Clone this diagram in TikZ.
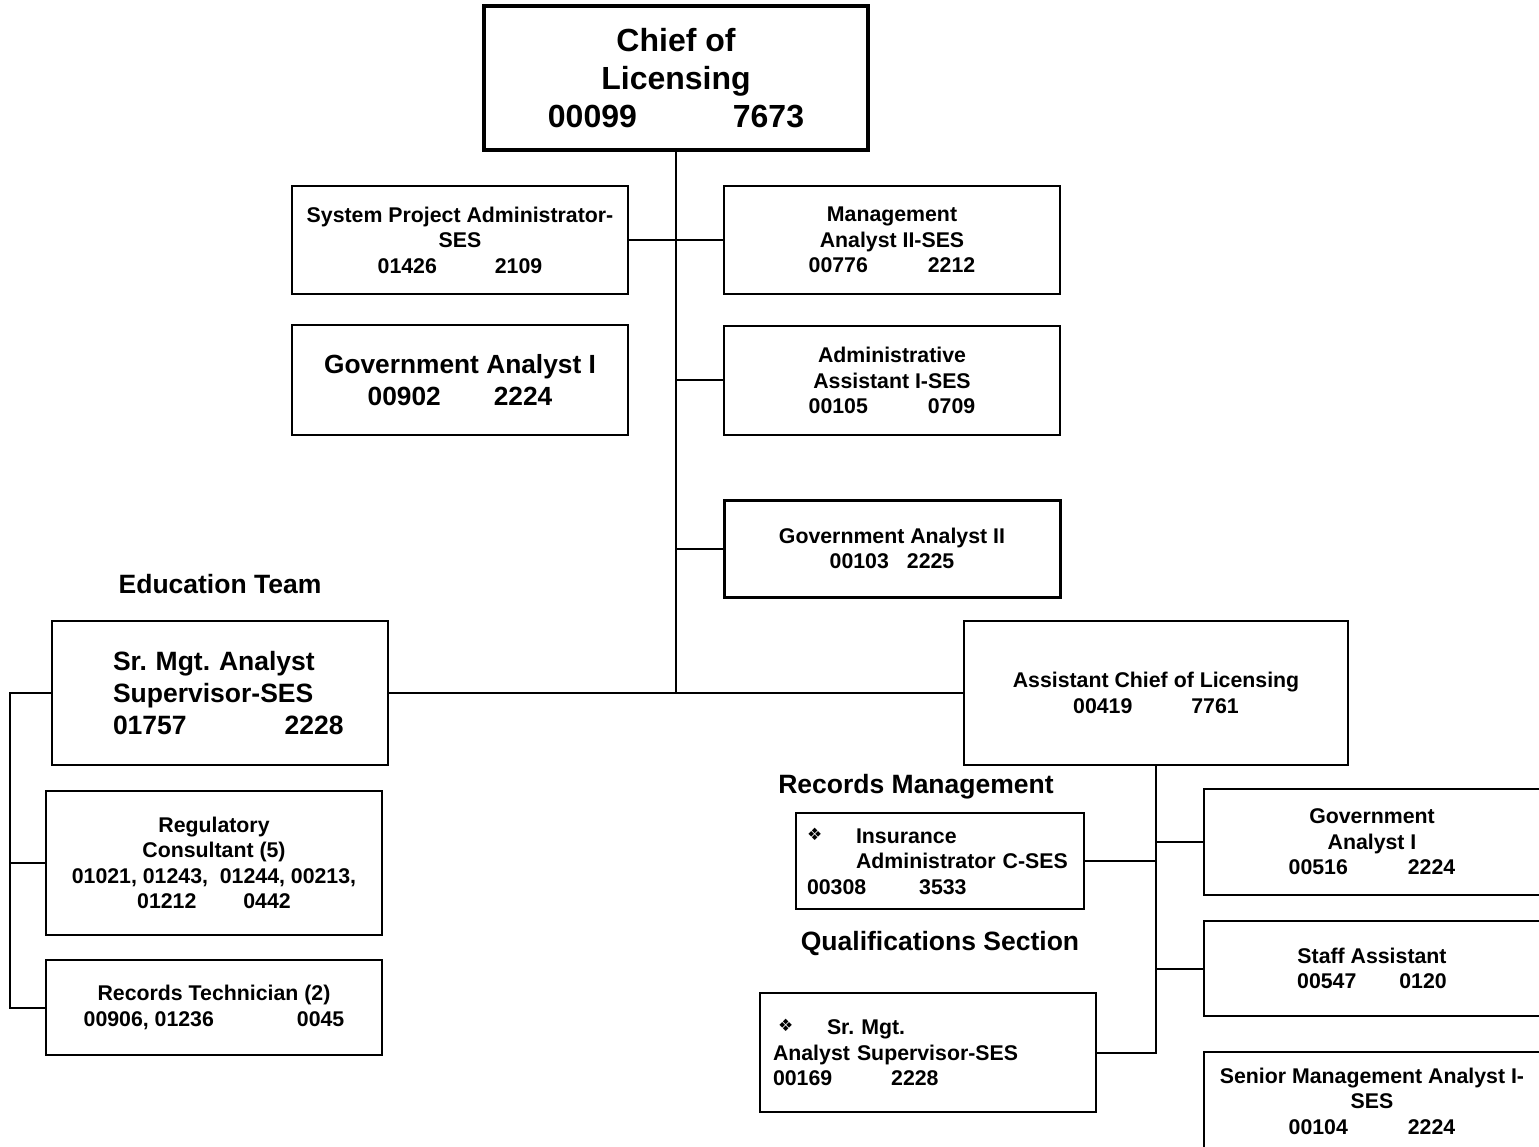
\documentclass[tikz,border=0pt]{standalone}
\usepackage{fontspec}
\setmainfont{Liberation Sans}
\newfontfamily\dingfont{DejaVu Sans}
\newcommand{\dingmark}{\raisebox{3pt}{\dingfont\mdseries\fontsize{17}{17}\selectfont ❖}}
\frenchspacing
\begin{document}
\begin{tikzpicture}[x=1pt,y=-1pt,
  post/.style={draw, line width=2pt, inner sep=0pt, align=center,
    minimum width=336pt,
    font=\bfseries\fontsize{21.3}{25.5}\selectfont},
  bigpost/.style={post, font=\bfseries\fontsize{26.5}{32}\selectfont},
  heading/.style={inner sep=0pt, font=\bfseries\fontsize{26.5}{30}\selectfont},
  conn/.style={line width=2pt}
]
\useasboundingbox (0,0) rectangle (1539,1147);
\fill[white] (0,0) rectangle (1539,1147);
\clip (0,0) rectangle (1539,1147);

% top of the chart
\node[post, line width=3.5pt, minimum width=384pt, minimum height=144pt,
      font=\bfseries\fontsize{32}{38}\selectfont] (chief) at (676,78)
  {Chief of\\Licensing\\00099\hspace{96pt}7673};

% staff reporting to the chief
\node[post, minimum height=108pt] (spa) at (460,240)
  {System Project Administrator-\\SES\\01426\hspace{58pt}2109};
\node[post, minimum height=108pt] (mgmt) at (892,240)
  {Management\\Analyst II-SES\\00776\hspace{60pt}2212};
\node[bigpost, minimum height=110pt, font=\bfseries\fontsize{26.3}{32}\selectfont] (gaI) at (460,380)
  {Government Analyst I\\00902\hspace{53pt}2224};
\node[post, minimum height=109pt] (admin) at (892,380.5)
  {Administrative\\Assistant I-SES\\00105\hspace{60pt}0709};
\node[post, line width=3pt, minimum height=97pt] (gaII) at (892,548.5)
  {Government Analyst II\\00103\hspace{18pt}2225};

% education team
\node[heading] (eduhead) at (220,584) {Education Team};
\node[bigpost, minimum height=144pt, align=left, text width=214pt] (edu) at (220,693)
  {Sr. Mgt. Analyst\\Supervisor-SES\\\mbox{01757\hspace{98pt}2228}};
\node[post, minimum height=144pt] (reg) at (214,863)
  {Regulatory\\Consultant (5)\\01021, 01243,\ \ 01244, 00213,\\01212\hspace{47pt}0442};
\node[post, minimum height=95pt] (rtech) at (214,1007.5)
  {Records Technician (2)\\00906, 01236\hspace{83pt}0045};

% assistant chief and its units
\node[post, minimum width=384pt, minimum height=144pt] (asst) at (1156,693)
  {Assistant Chief of Licensing\\00419\hspace{59pt}7761};

\node[heading] (rmhead) at (916,787) {Records Management};
\node[post, minimum width=288pt, minimum height=96pt, align=left, text width=266pt] (ins) at (940,861)
  {\makebox[49pt][l]{\dingmark}Insurance\\\hspace*{49pt}Administrator C-SES\\00308\hspace{53pt}3533};

\node[heading] (qshead) at (940,943) {Qualifications Section};
\node[post, minimum height=119pt, align=left, text width=310pt] (qual) at (928,1052.5)
  {\hspace*{5pt}\makebox[49pt][l]{\dingmark}Sr. Mgt.\\Analyst Supervisor-SES\\00169\hspace{59pt}2228};

\node[post, minimum height=106pt] (gaR) at (1372,842)
  {Government\\Analyst I\\00516\hspace{60pt}2224};
\node[post, minimum height=95pt] (staff) at (1372,968.5)
  {Staff Assistant\\00547\hspace{43pt}0120};
\node[post, minimum height=98pt] (smaI) at (1372,1101)
  {Senior Management Analyst I-\\SES\\00104\hspace{60pt}2224};

% connectors
\coordinate (lbus) at (10,0);
\draw[conn] (chief.south) -- (chief.south |- edu.east);
\draw[conn] (spa.east) -- (mgmt.west);
\draw[conn] (admin.west) -- (admin.west -| chief.south);
\draw[conn] (gaII.west) -- (gaII.west -| chief.south);
\draw[conn] (edu.east) -- (asst.west);
\draw[conn] (edu.west) -- (edu.west -| lbus) |- (rtech.west);
\draw[conn] (reg.west) -- (reg.west -| lbus);
\draw[conn] (asst.south) -- (asst.south |- qual.east) -- (qual.east);
\draw[conn] (ins.east) -- (ins.east -| asst.south);
\draw[conn] (gaR.west) -- (gaR.west -| asst.south);
\draw[conn] (staff.west) -- (staff.west -| asst.south);
\end{tikzpicture}
\end{document}
